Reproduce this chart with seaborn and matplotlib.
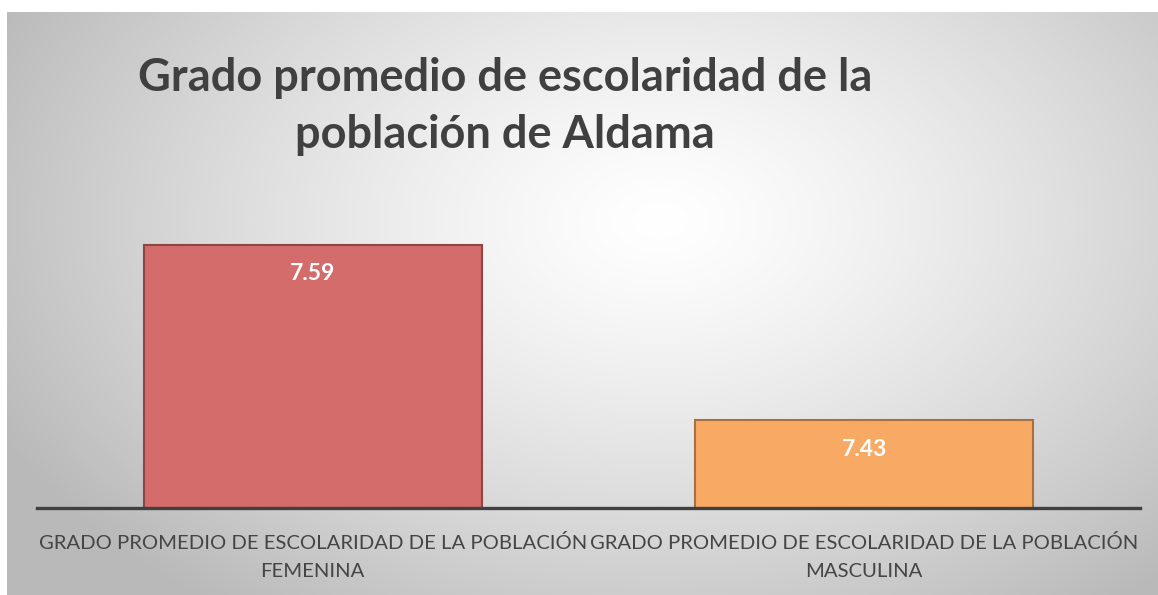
import numpy as np
import pandas as pd
import matplotlib.pyplot as plt
import seaborn as sns

# datos
categorias = ['GRADO PROMEDIO DE ESCOLARIDAD DE LA POBLACIÓN\nFEMENINA',
              'GRADO PROMEDIO DE ESCOLARIDAD DE LA POBLACIÓN\nMASCULINA']
valores = [7.59, 7.43]
colores = ['#D36C6A', '#F8AA64']
bordes = ['#8E4644', '#A8703F']
titulo = 'Grado promedio de escolaridad de la\npoblación de Aldama'

sns.set_style('white')
plt.rcParams['font.family'] = ['Lato', 'DejaVu Sans']

W, H = 1158, 595
fig = plt.figure(figsize=(W / 100, H / 100), dpi=100)

# fondo con degradado radial
fondo = fig.add_axes([7 / W, 0, 1 - 7 / W, (H - 12) / H])
xx, yy = np.meshgrid(np.arange(7, W), np.arange(12, H))
r = np.sqrt(((xx - 660) / 640) ** 2 + ((yy - 220) / 420) ** 2)
gris = 255 - 58 * np.clip(r, 0, 1.15) ** 1.3
img = np.dstack([gris, gris, gris]) / 255
fondo.imshow(np.clip(img, 0, 1), aspect='auto', interpolation='bilinear')
fondo.set_axis_off()

# grafico
ax = fig.add_axes([37 / W, 1 - 508 / H, (1140 - 37) / W, (508 - 179.5) / H])
ax.patch.set_alpha(0)
df = pd.DataFrame({'cat': categorias, 'val': valores})
sns.barplot(data=df, x='cat', y='val', hue='cat', palette=colores,
            width=0.613, legend=False, ax=ax, saturation=1)
for barra, b in zip(ax.patches, bordes):
    barra.set_edgecolor(b)
    barra.set_linewidth(1.5)
ax.set_ylim(7.35, 7.65)
ax.set_xlim(-0.5, 1.5)

for i, v in enumerate(valores):
    ax.text(i, v - 0.0262, f'{v:.2f}', ha='center', va='center',
            color='white', fontsize=16.5, fontweight='bold')

ax.set_xlabel('')
ax.set_ylabel('')
ax.set_yticks([])
ax.tick_params(axis='x', length=0, pad=19, labelsize=14.6, labelcolor='#454545')
for lab in ax.get_xticklabels():
    lab.set_linespacing(1.75)
for s in ['top', 'left', 'right']:
    ax.spines[s].set_visible(False)
ax.spines['bottom'].set_color('#404040')
ax.spines['bottom'].set_linewidth(2.4)

fig.text(505 / W, 1 - 57 / H, titulo, ha='center', va='top',
         fontsize=32.5, fontweight='bold', color='#404040', linespacing=1.45)

fig.savefig('out.png', dpi=100)
